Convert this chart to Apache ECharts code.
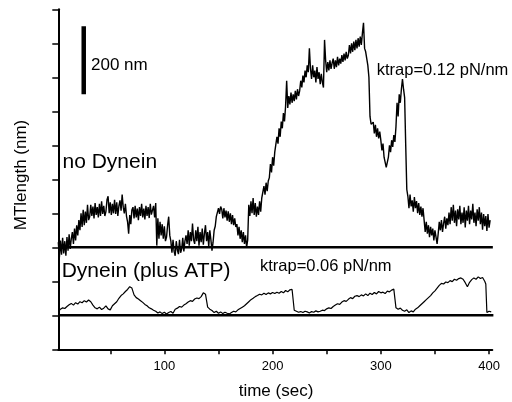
<!DOCTYPE html>
<html><head><meta charset="utf-8">
<script src="https://cdn.jsdelivr.net/npm/echarts@6/dist/echarts.min.js"></script>
<style>html,body{margin:0;padding:0;background:#fff}#c{width:512px;height:402px}</style>
</head><body><div id="c"></div>
<script>
// x axis ticks / labels (sec)
var xTickValues = [50, 100, 150, 200, 250, 300, 350, 400];
var xLabelValues = [100, 200, 300, 400];
// baselines (nm)
var baselineUpper = 300;
var baselineLower = 100;
// scale bar (nm)
var scaleBarTime = 25.5;
var scaleBarRange = [750, 950];

// "no Dynein" trace: [start time (s), values at 1 s steps (nm)]
var upperSegments = [
 [2, [315,270,320,278,328,282,318,275,330,290,338,295,325,345]],
 [16, [310,355,320,365,335,380]],
 [22, [350,400,360,410,365,405,372,425,380]],
 [31, [390,425,392,420,385,430,395,418,388,428,392,435,398,422,392]],
 [46, [405,440,450,400,432,395,428,400,440,398,432,392,422,438,408,455,418,400,428]],
 [65, [392,375,340,395,368,410]],
 [71, [418,385,422,388,414,380,418,392,428,388,414,382,422,392,418,386,428,396,392,422,388,430]],
 [93, [305,385,325,375,335,368,325,362,318]],
 [102, [330,365,390,335]],
 [106, [318,284,322,288,275,318,292,280,322,284,295,328,288,318]],
 [120, [335,310,350,305,345,318,370,322,310,350,318,360,305,345,315,355,308,340,365,318,345,302,350,322,290]],
 [145, [315,350,362,390,392,415,398,420]],
 [153, [412,385,415,388,408,378,406,375,400,368,395,365,385,360]],
 [167, [368,335,360,325,350,315,345,310,335,300,322]],
 [178, [425,392,435,400,445,395,430,390,420,395,435,405,445]],
 [191, [445,480,455,490,465,495]],
 [197, [505,545,520,565,540,580]],
 [203, [585,625,605,650,625,670,650,695,670,715]],
 [213, [790]],
 [214, [710,745,720,755,725,750,730,760,735,765,745]],
 [225, [760,790,770,805,785,820,800,835,815]],
 [234, [885]],
 [235, [825,795,835,800,820,785,830,795,815,780,810,785,770]],
 [248, [910,850]],
 [250, [815,845,820,850,825,842,855,825,850,830,860,835,855,840,865,845,870,850,875,855]],
 [270, [865,895,870,900,875,905,880,910,885,915,890,920,895,930]],
 [284, [960,885,875,855,835,800]],
 [290, [685,662,660,668,635,660,625,650,620,640]],
 [300, [615,585,605,565,560,535,530]],
 [307, [565,600,580,615,595,630,610]],
 [314, [655,725,685,750,725]],
 [319, [765,795,765,740]],
 [323, [600,470]],
 [325, [450,415,455,420,438,405,448,415,436,400,430,395,420,390,415]],
 [340, [380,345,375,340,365,330,360,335,355,320,350,330,310]],
 [353, [340,375,350,380,345,370,390,355,385,365]],
 [363, [402,368,418,378,425,372,408,362,412,382,422,368,402,372,418,358,408,378,422,368,408,382,428,372,402,362,412,378,418,368,402,352,398,362,392,348,398,358,380]]
];

// "Dynein (plus ATP)" trace: [start time (s), step (s), values (nm)]
var lowerSegments = [
 [2, 2, [111,118,122,120,126]],
 [12, 2, [131,135,130,137,133,140,137,143,139,145,140]],
 [34, 2, [130,122,119,124,117,121,128,119,116]],
 [52, 2, [128,134,140,150,158,163,170,176,184,180]],
 [72, 2, [160,152,148,143,138,132,128,122,119,115]],
 [92, 2, [112,107,110,105,109,104,108,111,106]],
 [110, 2, [118,121,126,124,130,134]],
 [122, 2, [139,143,141,148,151,149,155,166,162]],
 [140, 2, [124,118,114]],
 [146, 2, [108,112,106,110,105,109,106,104]],
 [162, 2, [108,112,110,116,120,124]],
 [174, 2, [128,134,140,146,150,155]],
 [186, 2, [158,162,160,165,161,166,163,167,164,168,165]],
 [208, 2, [170,166,173,169,175,176]],
 [220, 2, [115,112,109,111,108,112,110,107,111,109,113,110,112]],
 [246, 2, [115,114,119,122,120,126]],
 [258, 2, [130,134,132,139,143,141,147,152,149,156,158]],
 [280, 2, [155,160,157,163,158,165,161,167,163,170,166,168,164,171,169,174,177]],
 [314, 2, [122,118,121,115,112,116,108,113,110,118,122]],
 [336, 2, [128,134,140,146,152,158,166,172,180,188,194]],
 [358, 2, [192,198,196,202,199,206,203,208,210]],
 [376, 2, [206,196,184,197,205,210,206,213,208,211]],
 [396, 1, [200,192,108]],
 [400, 2, [112,110]]
];

function buildUpper(segs) {
  var out = [];
  segs.forEach(function (s) { s[1].forEach(function (v, i) { out.push([s[0] + i, v]); }); });
  return out;
}
function buildLower(segs) {
  var out = [];
  segs.forEach(function (s) { s[2].forEach(function (v, i) { out.push([s[0] + i * s[1], v]); }); });
  return out;
}

var font = 'Liberation Sans, Arial, sans-serif';
var chart = echarts.init(document.getElementById('c'), null, {renderer: 'canvas'});
chart.setOption({
  animation: false,
  backgroundColor: '#fff',
  grid: {left: 58.3, right: 19.7, top: 9.3, bottom: 52.7, containLabel: false},
  xAxis: {
    type: 'value', min: 2, max: 403,
    axisLine: {show: true, onZero: false, lineStyle: {color: '#000', width: 2}},
    axisTick: {show: true, length: 5, customValues: xTickValues, lineStyle: {color: '#000', width: 1.5}},
    axisLabel: {show: true, customValues: xLabelValues, color: '#000', fontSize: 13, fontFamily: font, margin: 11},
    splitLine: {show: false}
  },
  yAxis: {
    type: 'value', min: 0, max: 1000, interval: 100,
    axisLine: {show: true, onZero: false, lineStyle: {color: '#000', width: 2}},
    axisTick: {show: true, length: 6, lineStyle: {color: '#000', width: 1.5}},
    axisLabel: {show: false},
    splitLine: {show: false}
  },
  graphic: [
    {type: 'text', x: 91, y: 65, style: {text: '200 nm', font: '17px ' + font, fill: '#000', textVerticalAlign: 'middle'}},
    {type: 'text', x: 62.5, y: 162, style: {text: 'no Dynein', font: '21px ' + font, fill: '#000', textVerticalAlign: 'middle'}},
    {type: 'text', x: 61.7, y: 271, style: {text: 'Dynein (plus ATP)', font: '21px ' + font, fill: '#000', textVerticalAlign: 'middle'}},
    {type: 'text', x: 376.7, y: 70, style: {text: 'ktrap=0.12 pN/nm', font: '16.5px ' + font, fill: '#000', textVerticalAlign: 'middle'}},
    {type: 'text', x: 260, y: 266, style: {text: 'ktrap=0.06 pN/nm', font: '16.5px ' + font, fill: '#000', textVerticalAlign: 'middle'}},
    {type: 'text', x: 276, y: 391, style: {text: 'time (sec)', font: '17px ' + font, fill: '#000', textAlign: 'center', textVerticalAlign: 'middle'}},
    {type: 'text', x: 21, y: 175, rotation: Math.PI / 2, style: {text: 'MTlength (nm)', font: '17px ' + font, fill: '#000', textAlign: 'center', textVerticalAlign: 'middle'}}
  ],
  series: [
    {type: 'line', data: [[2, baselineUpper], [403.5, baselineUpper]], showSymbol: false, clip: false, lineStyle: {color: '#000', width: 2.5}, silent: true},
    {type: 'line', data: [[2, baselineLower], [404, baselineLower]], showSymbol: false, clip: false, lineStyle: {color: '#000', width: 2.5}, silent: true},
    {type: 'line', data: [[scaleBarTime, scaleBarRange[0]], [scaleBarTime, scaleBarRange[1]]], showSymbol: false, lineStyle: {color: '#000', width: 4.5, cap: 'butt'}, silent: true},
    {type: 'line', data: buildUpper(upperSegments), showSymbol: false, clip: false, lineStyle: {color: '#000', width: 1.4}},
    {type: 'line', data: buildLower(lowerSegments), showSymbol: false, clip: false, lineStyle: {color: '#000', width: 1.2}}
  ]
});
</script></body></html>
